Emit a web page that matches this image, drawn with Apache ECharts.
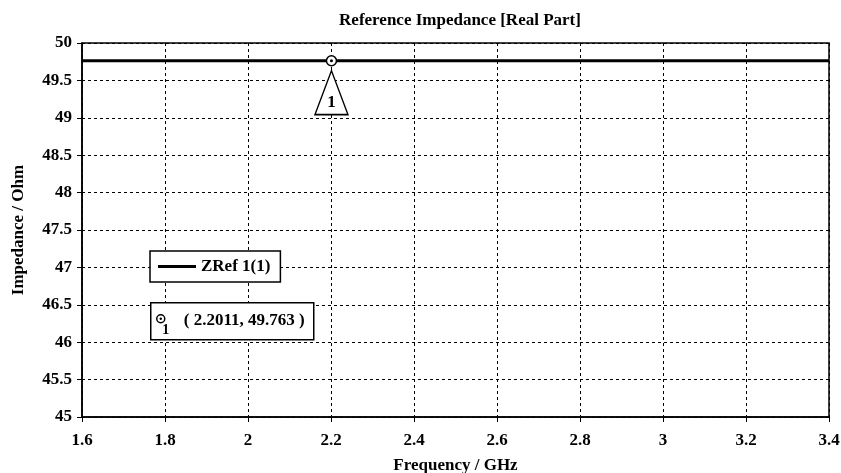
<!DOCTYPE html>
<html>
<head>
<meta charset="utf-8">
<script src="https://cdn.jsdelivr.net/npm/echarts@6/dist/echarts.min.js"></script>
<style>
  html, body { margin: 0; padding: 0; background: #fff; }
  #chart { width: 841px; height: 473px; }
</style>
</head>
<body>
<div id="chart"></div>
<script>
// data
var freq = [1.6, 1.7, 1.8, 1.9, 2.0, 2.1, 2.2, 2.3, 2.4, 2.5, 2.6, 2.7, 2.8, 2.9, 3.0, 3.1, 3.2, 3.3, 3.4];
var zref = [49.763, 49.763, 49.763, 49.763, 49.763, 49.763, 49.763, 49.763, 49.763, 49.763,
            49.763, 49.763, 49.763, 49.763, 49.763, 49.763, 49.763, 49.763, 49.763];
var seriesName = 'ZRef 1(1)';
var markerFreq = 2.2011;
var markerValue = 49.763;
var markerLabel = '1';

var font = 'Liberation Serif';

var chart = echarts.init(document.getElementById('chart'));
window.onresize = chart.resize;

var points = freq.map(function (f, i) { return [f, zref[i]]; });

var option = {
  backgroundColor: '#fff',
  animation: false,
  title: {
    text: 'Reference Impedance [Real Part]',
    left: 455, top: 7, textAlign: 'center',
    textStyle: { fontFamily: font, fontWeight: 'bold', fontSize: 17, color: '#000' }
  },
  grid: {
    left: 82, right: 12, top: 43, bottom: 56,
    outerBoundsMode: 'none',
    show: true, borderColor: '#000', borderWidth: 1.5
  },
  legend: {
    left: 150, top: 251,
    padding: [7, 10, 7, 8],
    borderColor: '#000', borderWidth: 1.5,
    backgroundColor: '#fff',
    icon: 'rect', itemWidth: 38, itemHeight: 3, itemGap: 7,
    textStyle: { fontFamily: font, fontWeight: 'bold', fontSize: 17, color: '#000' },
    data: [seriesName],
    z: 20
  },
  xAxis: {
    type: 'value', min: 1.6, max: 3.4, interval: 0.2,
    name: 'Frequency / GHz', nameLocation: 'middle', nameGap: 40,
    nameTextStyle: { fontFamily: font, fontWeight: 'bold', fontSize: 17, color: '#000' },
    axisLine: { lineStyle: { color: '#000', width: 1.5 } },
    axisTick: { show: true, length: 5, lineStyle: { color: '#000', width: 1 } },
    axisLabel: { margin: 15, fontFamily: font, fontWeight: 'bold', fontSize: 17, color: '#000' },
    splitLine: { show: true, lineStyle: { color: '#000', width: 1, type: [3, 3] } }
  },
  yAxis: {
    type: 'value', min: 45, max: 50, interval: 0.5,
    name: 'Impedance / Ohm', nameLocation: 'middle', nameGap: 55,
    nameTextStyle: { fontFamily: font, fontWeight: 'bold', fontSize: 17, color: '#000' },
    axisLine: { show: true, lineStyle: { color: '#000', width: 1.5 } },
    axisTick: { show: true, length: 5, lineStyle: { color: '#000', width: 1 } },
    axisLabel: { margin: 10, fontFamily: font, fontWeight: 'bold', fontSize: 17, color: '#000' },
    splitLine: { show: true, lineStyle: { color: '#000', width: 1, type: [3, 3] } }
  },
  series: [{
    name: seriesName,
    type: 'line',
    data: points,
    showSymbol: false,
    lineStyle: { color: '#000', width: 3 },
    itemStyle: { color: '#000' },
    markPoint: {
      silent: true,
      data: [
        {
          coord: [markerFreq, markerValue],
          symbol: 'path://M0,1 L0.5,0 L1,1 Z',
          symbolSize: [33, 44],
          symbolOffset: [0, 32],
          itemStyle: { color: '#fff', borderColor: '#000', borderWidth: 1.5 },
          label: {
            show: true, formatter: markerLabel, position: 'inside', offset: [0, 10],
            fontFamily: font, fontWeight: 'bold', fontSize: 17, color: '#000'
          }
        },
        {
          coord: [markerFreq, markerValue],
          symbol: 'circle', symbolSize: 10,
          itemStyle: { color: '#fff', borderColor: '#000', borderWidth: 1.5 },
          label: { show: false }
        },
        {
          coord: [markerFreq, markerValue],
          symbol: 'circle', symbolSize: 3,
          itemStyle: { color: '#000' },
          label: { show: false }
        }
      ]
    }
  }],
  graphic: [{
    type: 'group', left: 150, top: 302, z: 100,
    children: [
      { type: 'rect', z: 100, shape: { x: 0, y: 0, width: 163, height: 37 },
        style: { fill: '#fff', stroke: '#000', lineWidth: 1.5 } },
      { type: 'circle', z: 101, shape: { cx: 10, cy: 16, r: 4 },
        style: { fill: '#fff', stroke: '#000', lineWidth: 1.5 } },
      { type: 'circle', z: 102, shape: { cx: 10, cy: 16, r: 1.2 }, style: { fill: '#000' } },
      { type: 'text', z: 101, x: 15, y: 28,
        style: { text: markerLabel, fill: '#000', fontFamily: font, fontWeight: 'bold', fontSize: 14,
                 align: 'center', verticalAlign: 'middle' } },
      { type: 'text', z: 101, x: 33, y: 18,
        style: { text: '( ' + markerFreq + ', ' + markerValue + ' )', fill: '#000',
                 fontFamily: font, fontWeight: 'bold', fontSize: 17, verticalAlign: 'middle' } }
    ]
  }]
};

chart.setOption(option);
</script>
</body>
</html>
